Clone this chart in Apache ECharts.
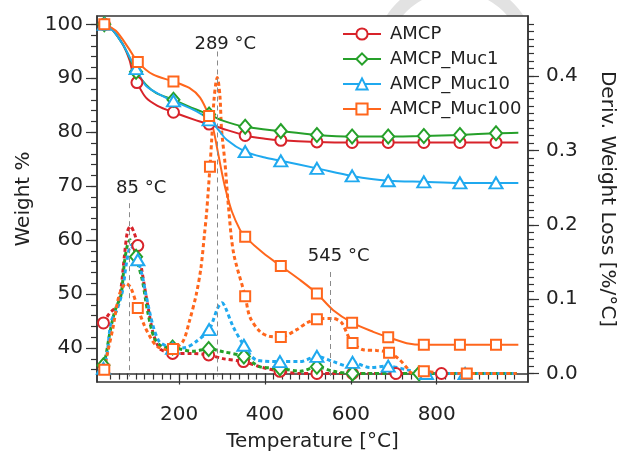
<!DOCTYPE html>
<html><head><meta charset="utf-8">
<script src="https://cdn.jsdelivr.net/npm/echarts@6/dist/echarts.min.js"></script>
<style>html,body{margin:0;padding:0;background:#fff}#c{width:617px;height:452px}</style>
</head><body><div id="c"></div>
<script>
// ---------- data ----------
const names = ['AMCP', 'AMCP_Muc1', 'AMCP_Muc10', 'AMCP_Muc100'];

// TGA (weight %, left axis)
const tgaT_AMCP = [26, 45, 69, 85, 92, 102, 123, 150, 187, 240, 270, 300, 354, 400, 437, 521, 603, 687, 770, 854, 938, 990];
const tgaW_AMCP = [100, 99.0, 96.3, 93.3, 91.0, 89.2, 86.4, 84.9, 83.7, 82.2, 81.5, 80.7, 79.4, 78.8, 78.5, 78.2, 78.1, 78.1, 78.1, 78.1, 78.1, 78.1];
const tgaM_AMCP = [26, 102, 187, 270, 354, 437, 521, 603, 687, 770, 854, 938];

const tgaT_Muc1 = [26, 45, 69, 85, 100, 123, 146, 187, 240, 270, 300, 354, 437, 521, 603, 687, 770, 854, 938, 990];
const tgaW_Muc1 = [100, 99.0, 96.3, 93.8, 91.2, 88.8, 87.3, 86.0, 84.2, 83.3, 82.2, 81.0, 80.2, 79.5, 79.2, 79.2, 79.3, 79.5, 79.8, 79.9];
const tgaM_Muc1 = [26, 100, 187, 270, 354, 437, 521, 603, 687, 770, 854, 938];

const tgaT_Muc10 = [26, 45, 69, 85, 100, 123, 162, 187, 240, 270, 290, 311, 354, 400, 437, 521, 603, 687, 770, 854, 938, 990];
const tgaW_Muc10 = [100, 99.0, 96.3, 93.9, 91.8, 88.6, 86.7, 85.8, 83.9, 82.3, 80.6, 78.6, 76.4, 75.3, 74.7, 73.3, 71.9, 71.0, 70.8, 70.6, 70.6, 70.6];
const tgaM_Muc10 = [26, 100, 187, 270, 354, 437, 521, 603, 687, 770, 854, 938];

const tgaT_Muc100 = [26, 53, 84, 104, 139, 187, 224, 249, 270, 280, 290, 300, 310, 323, 342, 354, 396, 437, 482, 521, 559, 603, 652, 687, 730, 770, 854, 938, 990];
const tgaW_Muc100 = [100, 98.8, 95.4, 93.0, 90.7, 89.4, 88.2, 86.4, 83.0, 80.5, 76.5, 72.4, 68.9, 65.3, 61.9, 60.6, 57.6, 55.2, 52.6, 50.1, 47.0, 44.7, 43.0, 42.0, 40.9, 40.6, 40.6, 40.6, 40.6];
const tgaM_Muc100 = [26, 104, 187, 270, 354, 437, 521, 603, 687, 770, 854, 938];

// DTG (deriv. weight loss %/°C, right axis)
const dtgT_AMCP = [24, 38, 57, 65, 73, 80, 87, 95, 104, 115, 127, 139, 154, 170, 185, 232, 269, 302, 350, 389, 435, 482, 521, 560, 604, 650, 705, 760, 811, 870, 930, 986];
const dtgD_AMCP = [0.068, 0.081, 0.092, 0.115, 0.159, 0.191, 0.198, 0.190, 0.172, 0.133, 0.092, 0.056, 0.034, 0.029, 0.027, 0.027, 0.025, 0.020, 0.016, 0.009, 0.003, 0.0, 0.0, 0.0, 0.0, 0.0, 0.0, 0.0, 0.0, 0.0, 0.0, 0.0];
const dtgM_AMCP = [24, 104, 185, 269, 350, 435, 521, 604, 705, 811];

const dtgT_Muc1 = [24, 30, 38, 46, 53, 65, 73, 80, 86, 93, 100, 115, 127, 143, 162, 185, 232, 269, 305, 351, 389, 435, 482, 521, 559, 604, 650, 700, 759, 810, 870, 930, 986];
const dtgD_Muc1 = [0.011, 0.025, 0.052, 0.074, 0.088, 0.106, 0.150, 0.173, 0.180, 0.172, 0.157, 0.124, 0.083, 0.047, 0.036, 0.035, 0.030, 0.033, 0.029, 0.023, 0.009, 0.007, 0.003, 0.009, 0.003, 0.0, 0.0, 0.0, 0.0, 0.0, 0.0, 0.0, 0.0];
const dtgM_Muc1 = [24, 100, 185, 269, 351, 435, 521, 604, 759];

const dtgT_Muc10 = [24, 32, 42, 55, 68, 78, 88, 96, 104, 115, 123, 139, 154, 174, 185, 216, 240, 270, 290, 300, 307, 326, 351, 381, 435, 482, 521, 559, 594, 604, 645, 687, 730, 776, 820, 866, 930, 986];
const dtgD_Muc10 = [0.007, 0.025, 0.070, 0.085, 0.110, 0.150, 0.172, 0.165, 0.153, 0.130, 0.106, 0.065, 0.043, 0.036, 0.034, 0.035, 0.043, 0.059, 0.088, 0.095, 0.090, 0.063, 0.038, 0.018, 0.016, 0.016, 0.023, 0.016, 0.010, 0.015, 0.008, 0.010, 0.005, 0.0, 0.0, 0.0, 0.0, 0.0];
const dtgM_Muc10 = [24, 104, 185, 270, 351, 435, 521, 604, 687, 776, 866];

const dtgT_Muc100 = [26, 34, 46, 61, 77, 88, 104, 119, 135, 150, 174, 186, 209, 224, 240, 251, 259, 264, 272, 276, 281, 286, 289, 295, 299, 307, 315, 327, 354, 365, 389, 410, 437, 474, 497, 521, 559, 579, 594, 604, 629, 660, 689, 711, 730, 741, 770, 820, 870, 930, 986];
const dtgD_Muc100 = [0.005, 0.029, 0.061, 0.106, 0.121, 0.115, 0.088, 0.065, 0.047, 0.036, 0.032, 0.033, 0.043, 0.070, 0.106, 0.142, 0.186, 0.215, 0.278, 0.314, 0.365, 0.392, 0.398, 0.375, 0.328, 0.283, 0.225, 0.162, 0.104, 0.076, 0.056, 0.050, 0.049, 0.059, 0.068, 0.073, 0.074, 0.068, 0.050, 0.041, 0.032, 0.031, 0.028, 0.020, 0.008, 0.001, 0.003, 0.0, 0.0, 0.0, 0.0];
const dtgM_Muc100 = [26, 104, 186, 272, 354, 437, 521, 604, 689, 770, 870];

// peak annotations
const annoT = [85, 289, 553];
const annoText = ['85 °C', '289 °C', '545 °C'];
const annoTop = [0.229, 0.433, 0.1365];
const annoBottom = -0.004;

// axis ticks / labels
const xLabels = [200, 400, 600, 800];
const xMinor = []; for (let v = 40; v <= 980; v += 20) xMinor.push(v);
const yLeftLabels = [40, 50, 60, 70, 80, 90, 100];
const yLeftMinor = []; for (let v = 36; v <= 100; v += 2) yLeftMinor.push(v);
const yRightLabels = [0, 0.1, 0.2, 0.3, 0.4];
const yRightMinor = []; for (let i = 0; i <= 47; i++) yRightMinor.push(+(i * 0.01).toFixed(2));

// ---------- styles ----------
const colors = ['#d8232a', '#26a02a', '#1fa9ef', '#ff661c'];
const symbols = ['emptyCircle', 'emptyDiamond', 'emptyTriangle', 'emptyRect'];
const symSizes = [11, [12, 14], [13, 11], 10];
const FONT = 'DejaVu Sans';
const TXT = '#222';
const AX = '#333';

function build(T, V, M) {
  return T.map((t, i) => M.indexOf(t) >= 0 ? { value: [t, V[i]] } : { value: [t, V[i]], symbol: 'none' });
}

const tga = [[tgaT_AMCP, tgaW_AMCP, tgaM_AMCP], [tgaT_Muc1, tgaW_Muc1, tgaM_Muc1], [tgaT_Muc10, tgaW_Muc10, tgaM_Muc10], [tgaT_Muc100, tgaW_Muc100, tgaM_Muc100]];
const dtg = [[dtgT_AMCP, dtgD_AMCP, dtgM_AMCP], [dtgT_Muc1, dtgD_Muc1, dtgM_Muc1], [dtgT_Muc10, dtgD_Muc10, dtgM_Muc10], [dtgT_Muc100, dtgD_Muc100, dtgM_Muc100]];

const labelShift = [[23, 6], [16, -2], [16, 7]];

const series = [];
tga.forEach((d, i) => {
  series.push({
    type: 'line', name: names[i], xAxisIndex: 0, yAxisIndex: 0,
    data: build(d[0], d[1], d[2]),
    smooth: 0.3,
    symbol: symbols[i], symbolSize: symSizes[i], showSymbol: true, showAllSymbol: true,
    lineStyle: { color: colors[i], width: 2 },
    itemStyle: { color: colors[i], borderWidth: 1.5 },
    emphasis: { disabled: true }, z: 3
  });
});
dtg.forEach((d, i) => {
  const s = {
    type: 'line', name: names[i], xAxisIndex: 0, yAxisIndex: 1,
    data: build(d[0], d[1], d[2]),
    smooth: 0.3,
    symbol: symbols[i], symbolSize: symSizes[i], showSymbol: true, showAllSymbol: true,
    lineStyle: { color: colors[i], width: 3, type: [4, 3] },
    itemStyle: { color: colors[i], borderWidth: 1.5 },
    emphasis: { disabled: true }, z: 2
  };
  if (i === 0) {
    s.markLine = {
      silent: true, symbol: ['none', 'none'], animation: false,
      lineStyle: { color: '#8a8a8a', type: [5, 4], width: 1 },
      emphasis: { disabled: true },
      label: { show: true, position: 'start', fontSize: 18, color: TXT, fontFamily: FONT },
      data: annoT.map((t, k) => [
        { coord: [t, annoTop[k]], label: { formatter: annoText[k], padding: [0, 0, 0, labelShift[k][0]], distance: labelShift[k][1] } },
        { coord: [t, annoBottom] }
      ])
    };
  }
  series.push(s);
});

const xMin = 9, xMax = 1012.5;
const yLMin = 33.7, yLMax = 101.54;
const yRMin = -0.0114, yRMax = 0.4807;

// faint watermark band above the plot (decoration)
function wmBand(cx, cy, rOut, rIn, yCut) {
  const pts = [];
  const aOut = Math.asin((cy - yCut) / rOut), aIn = Math.asin((cy - yCut) / rIn);
  const n = 40;
  for (let k = 0; k <= n; k++) {
    const a = Math.PI + aOut + (Math.PI - 2 * aOut) * k / n;
    pts.push([cx + rOut * Math.cos(a), cy + rOut * Math.sin(a)]);
  }
  for (let k = 0; k <= n; k++) {
    const a = 2 * Math.PI - aIn - (Math.PI - 2 * aIn) * k / n;
    pts.push([cx + rIn * Math.cos(a), cy + rIn * Math.sin(a)]);
  }
  return pts;
}

const option = {
  animation: false,
  textStyle: { fontFamily: FONT },
  graphic: [{
    type: 'polygon', silent: true, z: -10,
    shape: { points: wmBand(455, 60, 81.5, 68.5, 16) },
    style: { fill: '#e2e2e2', stroke: null }
  }],
  grid: { left: 97, right: 89, top: 16, bottom: 70, show: true, borderColor: AX, borderWidth: 1.5, backgroundColor: '#fff', outerBoundsMode: 'none', containLabel: false },
  legend: {
    orient: 'vertical', left: 342, top: 25, padding: 0, itemWidth: 38, itemHeight: 14, itemGap: 7,
    data: names,
    textStyle: { fontSize: 18, color: TXT, fontFamily: FONT, padding: [0, 0, 0, 4] }
  },
  xAxis: [
    {
      type: 'value', min: xMin, max: xMax, position: 'bottom',
      axisLine: { show: true, lineStyle: { color: AX, width: 1.5 } },
      axisTick: { show: true, customValues: xLabels, length: 11, lineStyle: { color: AX, width: 1.2 } },
      axisLabel: { customValues: xLabels, fontSize: 20, margin: 23, color: TXT, fontFamily: FONT },
      splitLine: { show: false },
      name: 'Temperature [°C]', nameLocation: 'middle', nameGap: 50,
      nameTextStyle: { fontSize: 20, color: TXT, fontFamily: FONT }
    },
    {
      type: 'value', min: xMin, max: xMax, position: 'bottom',
      axisLine: { show: false },
      axisTick: { show: true, customValues: xMinor, length: 6, lineStyle: { color: AX, width: 1.2 } },
      axisLabel: { show: false }, splitLine: { show: false }
    }
  ],
  yAxis: [
    {
      type: 'value', min: yLMin, max: yLMax, position: 'left',
      axisLine: { show: true, lineStyle: { color: AX, width: 1.5 } },
      axisTick: { show: true, customValues: yLeftLabels, length: 11, lineStyle: { color: AX, width: 1.2 } },
      axisLabel: { customValues: yLeftLabels, fontSize: 20, margin: 14, color: TXT, fontFamily: FONT },
      splitLine: { show: false },
      name: 'Weight %', nameLocation: 'middle', nameGap: 63,
      nameTextStyle: { fontSize: 20, color: TXT, fontFamily: FONT }
    },
    {
      type: 'value', min: yRMin, max: yRMax, position: 'right',
      axisLine: { show: true, lineStyle: { color: AX, width: 1.5 } },
      axisTick: { show: true, customValues: yRightLabels, length: 11, lineStyle: { color: AX, width: 1.2 } },
      axisLabel: { customValues: yRightLabels, fontSize: 20, margin: 18, color: TXT, fontFamily: FONT, formatter: v => v.toFixed(1) },
      splitLine: { show: false },
      name: 'Deriv. Weight Loss [%/°C]', nameLocation: 'middle', nameGap: 69, nameRotate: -90,
      nameTextStyle: { fontSize: 20, color: TXT, fontFamily: FONT }
    },
    {
      type: 'value', min: yLMin, max: yLMax, position: 'left',
      axisLine: { show: false },
      axisTick: { show: true, customValues: yLeftMinor, length: 6, lineStyle: { color: AX, width: 1.2 } },
      axisLabel: { show: false }, splitLine: { show: false }
    },
    {
      type: 'value', min: yRMin, max: yRMax, position: 'right',
      axisLine: { show: false },
      axisTick: { show: true, customValues: yRightMinor, length: 6, lineStyle: { color: AX, width: 1.2 } },
      axisLabel: { show: false }, splitLine: { show: false }
    }
  ],
  series: series
};

const chart = echarts.init(document.getElementById('c'), null, { renderer: 'canvas' });
chart.setOption(option);
</script>
</body></html>
